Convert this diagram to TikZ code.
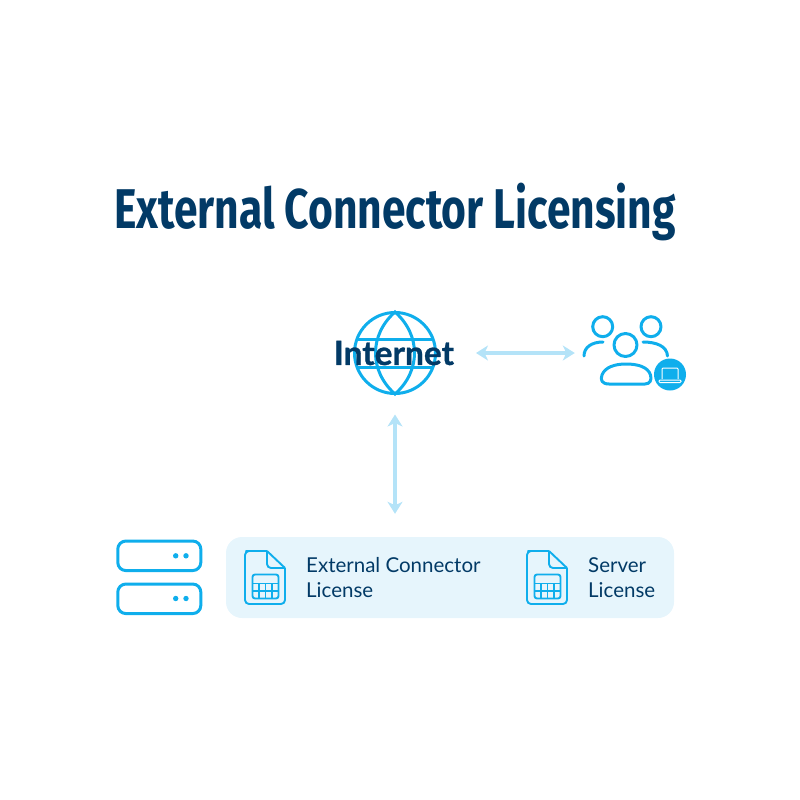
\documentclass[tikz,border=0pt]{standalone}
\usepackage{fontspec}
\setmainfont{Lato}
\newfontfamily\titlefont[FakeStretch=0.76]{Fira Sans}
\newfontfamily\heavyfont[FakeBold=0.8]{Lato Bold}
\usetikzlibrary{arrows.meta,positioning}
\definecolor{navy}{HTML}{023A66}
\definecolor{iconblue}{HTML}{0FAEEC}
\definecolor{arrowblue}{HTML}{B4E3F8}
\definecolor{panelblue}{HTML}{E6F5FC}
\tikzset{
  IconStyle/.style = {draw=iconblue, line width=3pt, line join=round, line cap=round},
  ThinIcon/.style = {draw=iconblue, line width=1.9pt, line join=round},
  LinkStyle/.style = {draw=arrowblue, line width=3.6pt, {Stealth[length=12pt,width=15pt,inset=3.5pt]}-{Stealth[length=12pt,width=15pt,inset=3.5pt]}},
  LabelStyle/.style = {text=navy, anchor=west, align=left, inner sep=0pt, font=\fontsize{20.5}{24.5}\selectfont},
  ServerStyle/.style = {IconStyle, rounded corners=8pt, minimum width=83pt, minimum height=29.5pt, inner sep=0pt},
  docicon/.pic = {
    \draw[ThinIcon, rounded corners=4pt] (22,0) -- (5,0) -- (0,0) -- (0,53) -- (40,53) -- (40,17);
    \draw[ThinIcon] (22,0) -- (40,17);
    \draw[ThinIcon, rounded corners=4pt] (22,0) -- (22,17) -- (40,17);
    \draw[ThinIcon, rounded corners=2.5pt] (7.5,23.5) rectangle (33.5,47.5);
    \draw[iconblue, line width=1.5pt] (7.5,32.5) -- (33.5,32.5) (7.5,40) -- (33.5,40)
      (14,32.5) -- (14,47.5) (20.5,32.5) -- (20.5,47.5) (27,32.5) -- (27,47.5);
  }
}
\begin{document}
\begin{tikzpicture}[x=1pt, y=-1pt]
\useasboundingbox (0,0) rectangle (800,800);
\node[text=navy, inner sep=0pt, font=\titlefont\bfseries\fontsize{56}{60}\selectfont] (title) at (395,212) {External Connector Licensing};

\node[circle, draw=iconblue, line width=3pt, minimum size=81pt, inner sep=0pt] (globe) at (395,353) {};
\draw[iconblue, line width=3pt] (395,312) .. controls (369,335) and (369,371) .. (395,394)
  .. controls (421,371) and (421,335) .. (395,312) -- cycle;
\draw[iconblue, line width=3pt] (356.5,339) -- (433.5,339) (356.5,367) -- (433.5,367);
\node[text=navy, inner sep=0pt, font=\heavyfont\fontsize{33.5}{36}\selectfont] (internet) at (394,353) {Internet};

\node[minimum width=110pt, minimum height=76pt, inner sep=0pt] (users) at (630,353) {};
\draw[IconStyle] (602.7,326.7) circle (10);
\draw[IconStyle] (651,326.7) circle (10);
\draw[IconStyle] (625.5,345) circle (11.5);
\draw[IconStyle] (584,356) .. controls (584,347) and (592,342) .. (603,342);
\draw[IconStyle] (643,342) .. controls (656,342) and (667,346) .. (667.5,356);
\draw[IconStyle] (609,384) .. controls (602,384) and (600,380) .. (602,375) .. controls (605,367) and (615,364) .. (626,364)
  .. controls (638,364) and (648,367) .. (650.5,375) .. controls (652,380) and (650,384) .. (645,384) -- cycle;
\node[circle, fill=iconblue, minimum size=32pt, inner sep=0pt] (laptop) at (670,374.5) {};
\draw[white, line width=1pt, rounded corners=1pt] (662,379) -- (662,368) -- (678,368) -- (678,379);
\draw[white, line width=1pt, rounded corners=1pt] (659,380) rectangle (681,382.5);

\node[draw=none, fill=panelblue, rounded corners=16pt, minimum width=448pt, minimum height=81pt, inner sep=0pt] (panel) at (450,577.5) {};

\node[ServerStyle] (serverA) at (159.3,555.8) {};
\node[ServerStyle] (serverB) at (159.3,598.8) {};
\foreach \ypos in {555.8,598.5}{
  \fill[iconblue] (175.7,\ypos) circle (2.7);
  \fill[iconblue] (186,\ypos) circle (2.7);
}

\pic at (245,551) {docicon};
\pic at (527,551) {docicon};
\node[LabelStyle] (extlabel) at (306,577.5) {External Connector\\License};
\node[LabelStyle] (srvlabel) at (588,577.5) {Server\\License};

\draw[LinkStyle, shorten <=39pt] (globe.east) -- (users.west);
\draw[LinkStyle, shorten <=19.5pt, shorten >=23pt] (globe.south) -- (globe.south |- panel.north);
\end{tikzpicture}
\end{document}
